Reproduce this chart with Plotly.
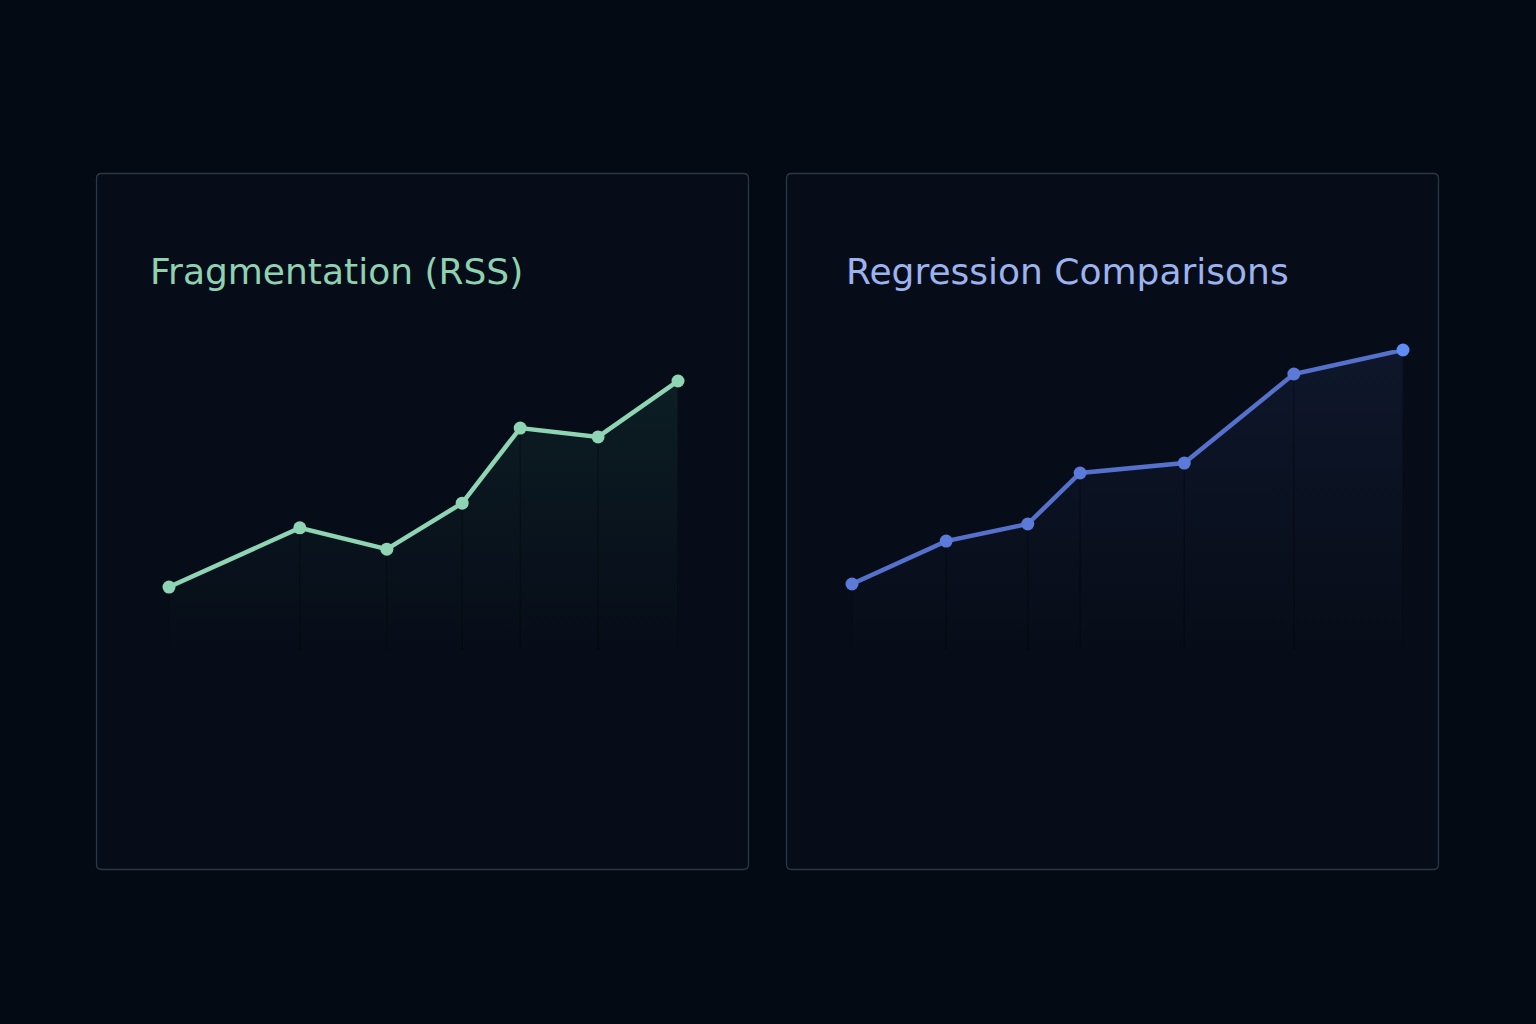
import plotly.graph_objects as go

# ---- data ----
frag_x = [0, 2.57, 4.28, 5.76, 6.9, 8.43, 10]
frag_y = [23.4, 45.4, 37.5, 54.6, 82.5, 79.2, 100]
reg_x = [0, 1.71, 3.19, 4.14, 6.03, 8.02, 10]
reg_y = [22, 36.3, 42, 59, 62.3, 92, 100]
titles = ["Fragmentation (RSS)", "Regression Comparisons"]

W, H = 1536, 1024
BG = "#040a13"
PANEL = "#070d18"
GREEN = "#8fd5b4"
BLUE = "#5571cc"

def px_dom_x(a, b):
    return [a / W, b / W]

def px_dom_y(top, bottom):
    return [(H - bottom) / H, (H - top) / H]

def px(x, y):
    return f"{x / W:.5f},{1 - y / H:.5f}"

def rrect(x0, y0, x1, y1, r):
    return (f"M {px(x0+r, y0)} L {px(x1-r, y0)} Q {px(x1, y0)} {px(x1, y0+r)} "
            f"L {px(x1, y1-r)} Q {px(x1, y1)} {px(x1-r, y1)} L {px(x0+r, y1)} "
            f"Q {px(x0, y1)} {px(x0, y1-r)} L {px(x0, y0+r)} Q {px(x0, y0)} {px(x0+r, y0)} Z")

fig = go.Figure()

for (x0, x1) in [(96.5, 748.5), (786.5, 1438.5)]:
    fig.add_shape(type="path", path=rrect(x0, 173.5, x1, 869.5, 5),
                  xref="paper", yref="paper", fillcolor=PANEL,
                  line=dict(color="rgba(110,125,150,0.38)", width=1.3), layer="below")

# left chart
fig.add_trace(go.Scatter(
    x=frag_x, y=frag_y, xaxis="x", yaxis="y", mode="lines+markers",
    line=dict(color=GREEN, width=4.5),
    marker=dict(size=13, color=GREEN),
    fill="tozeroy",
    fillgradient=dict(type="vertical",
                      colorscale=[[0, "rgba(25,60,60,0.0)"], [1, "rgba(25,70,65,0.3)"]]),
    error_y=dict(type="data", symmetric=False, array=[0]*len(frag_y), arrayminus=frag_y,
                 color="rgba(2,6,12,0.45)", thickness=1.2, width=0),
    cliponaxis=False, showlegend=False, hoverinfo="skip"))

# right chart
fig.add_trace(go.Scatter(
    x=reg_x, y=reg_y, xaxis="x2", yaxis="y2", mode="lines+markers",
    line=dict(color=BLUE, width=4.5),
    marker=dict(size=13, color=["#5b7ada"]*6 + ["#5f8cf5"]),
    fill="tozeroy",
    fillgradient=dict(type="vertical",
                      colorscale=[[0, "rgba(30,40,80,0.0)"], [1, "rgba(35,48,95,0.28)"]]),
    error_y=dict(type="data", symmetric=False, array=[0]*len(reg_y), arrayminus=reg_y,
                 color="rgba(2,6,12,0.45)", thickness=1.2, width=0),
    cliponaxis=False, showlegend=False, hoverinfo="skip"))

hidden = dict(visible=False, showgrid=False, zeroline=False, fixedrange=True)

fig.update_layout(
    width=W, height=H,
    margin=dict(l=0, r=0, t=0, b=0),
    paper_bgcolor=BG, plot_bgcolor="rgba(0,0,0,0)",
    xaxis=dict(hidden, domain=px_dom_x(169, 678), range=[0, 10]),
    yaxis=dict(hidden, domain=px_dom_y(381, 650), range=[0, 100]),
    xaxis2=dict(hidden, domain=px_dom_x(852, 1403), range=[0, 10]),
    yaxis2=dict(hidden, domain=px_dom_y(350, 650), range=[0, 100]),
    annotations=[
        dict(text=titles[0], x=148 / W, y=1 - 271 / H, xref="paper", yref="paper",
             xanchor="left", yanchor="middle", showarrow=False,
             font=dict(family="DejaVu Sans", size=36, color="#8fd2b2")),
        dict(text=titles[1], x=844 / W, y=1 - 271 / H, xref="paper", yref="paper",
             xanchor="left", yanchor="middle", showarrow=False,
             font=dict(family="DejaVu Sans", size=36, color="#9cb3ef")),
    ],
)

fig.write_html("out.html")
